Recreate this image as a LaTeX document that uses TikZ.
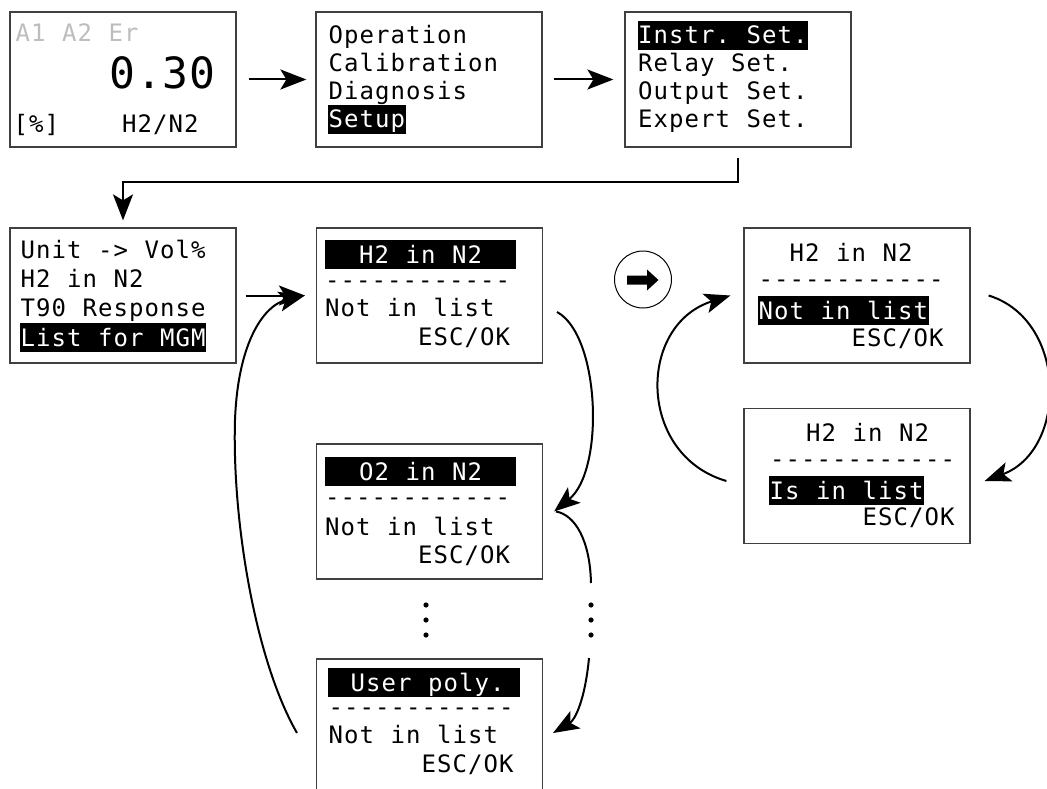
\documentclass[tikz,border=0pt]{standalone}
\usepackage{fontspec}
\usepackage{tikz}
\usetikzlibrary{arrows.meta}
\newfontfamily\lcdfont{DejaVu Sans Mono}
\definecolor{dim}{HTML}{BDBDBD}
\definecolor{frame}{HTML}{404040}
\newlength\lcdw
\setlength\lcdw{15.5pt}
\ExplSyntaxOn
\NewDocumentCommand\lcd{m}{
  \tl_set:Nn \l_tmpa_tl {#1}
  \tl_replace_all:Nnn \l_tmpa_tl {~} {\relax}
  \tl_map_inline:Nn \l_tmpa_tl {\makebox[\lcdw]{##1}}
}
\ExplSyntaxOff

\begin{document}
\begin{tikzpicture}[x=1pt,y=-1pt,
    font=\lcdfont\fontsize{24pt}{28pt}\selectfont,
    screen/.style={draw=frame,line width=1.2pt,minimum width=226pt,minimum height=135pt,inner sep=0pt},
    txt/.style={anchor=base west,inner sep=0pt},
    rule/.style={txt,text height=10pt,text depth=0pt},
    hl/.style={txt,fill=black,text=white,text height=23pt,text depth=6pt},
    arr/.style={-{Stealth[length=26pt,width=20pt,inset=6pt]},line width=2pt}]
  \useasboundingbox (0,0) rectangle (1047,789);
  \node[screen] (home) at (123,79.5) {};
  \node[screen] (menu) at (429,79.5) {};
  \node[screen] (setup) at (738,79.5) {};
  \node[screen] (instr) at (123,295.5) {};
  \node[screen] (list1) at (429.5,295.5) {};
  \node[screen] (list2) at (429.5,511.5) {};
  \node[screen] (list3) at (429.5,726.5) {};
  \node[screen] (sel1) at (857,295.5) {};
  \node[screen] (sel2) at (857,476) {};

  \node[txt,text=dim] (h1) at (15,41.7) {\lcd{A1 A2 Er}};
  \node[txt,anchor=base east,font={\lcdfont\fontsize{43pt}{43pt}\selectfont\setlength\lcdw{26.5pt}}] (h2) at (215.5,88.3) {\lcd{0.30}};
  \node[txt] (h3) at (13,133) {\lcd{[\%]}};
  \node[txt] (h4) at (121.5,133) {\lcd{H2/N2}};

  \node[txt] (m1) at (328,44) {\lcd{Operation}};
  \node[txt] (m2) at (328,72) {\lcd{Calibration}};
  \node[txt] (m3) at (328,100) {\lcd{Diagnosis}};
  \node[hl] (m4) at (328,128) {\lcd{Setup}};

  \node[hl] (s1) at (637.5,44) {\lcd{Instr. Set.}};
  \node[txt] (s2) at (637.5,72) {\lcd{Relay Set.}};
  \node[txt] (s3) at (637.5,100) {\lcd{Output Set.}};
  \node[txt] (s4) at (637.5,128) {\lcd{Expert Set.}};

  \node[txt] (i1) at (20,258) {\lcd{Unit -> Vol\%}};
  \node[txt] (i2) at (20,287) {\lcd{H2 in N2}};
  \node[txt] (i3) at (20,316.5) {\lcd{T90 Response}};
  \node[hl] (i4) at (20,346) {\lcd{List for MGM}};

  \node[hl,minimum width=191pt] (a1) at (325,263) {\lcd{H2 in N2}};
  \node[rule] (a2) at (324.5,288) {\lcd{------------}};
  \node[txt] (a3) at (324.5,316.5) {\lcd{Not in list}};
  \node[txt] (a4) at (417.5,345) {\lcd{ESC/OK}};

  \node[hl,minimum width=191pt] (b1) at (325,480) {\lcd{O2 in N2}};
  \node[rule] (b2) at (324.5,505) {\lcd{------------}};
  \node[txt] (b3) at (324.5,535) {\lcd{Not in list}};
  \node[txt] (b4) at (417.5,563) {\lcd{ESC/OK}};

  \node[hl,minimum width=192pt] (c1) at (328,691) {\hspace{7pt}\lcd{User poly.}};
  \node[rule] (c2) at (328,715) {\lcd{------------}};
  \node[txt] (c3) at (328,743.5) {\lcd{Not in list}};
  \node[txt] (c4) at (421,772) {\lcd{ESC/OK}};

  \node[txt] (d1) at (789,261.7) {\lcd{H2 in N2}};
  \node[rule] (d2) at (758,287) {\lcd{------------}};
  \node[hl] (d3) at (758,319) {\lcd{Not in list}};
  \node[txt] (d4) at (851,346.7) {\lcd{ESC/OK}};

  \node[txt] (e1) at (805.5,441.7) {\lcd{H2 in N2}};
  \node[rule] (e2) at (769.5,467.7) {\lcd{------------}};
  \node[hl] (e3) at (769,499) {\lcd{Is in list}};
  \node[txt] (e4) at (862,525) {\lcd{ESC/OK}};

  \foreach \y in {605,620,635} {
    \fill (426,\y) circle (2.6pt);
    \fill (591,\y) circle (2.6pt);
  }

  \node[circle,draw,line width=1pt,minimum size=57pt,inner sep=0pt] (go) at (643,279.5) {};
  \fill (627,275.5) -- (647,275.5) -- (647,269.5) -- (658.5,280) -- (647,290.5) -- (647,284.5) -- (627,284.5) -- cycle;

  \draw[arr] ([xshift=12pt]home.east) -- ([xshift=-9pt]menu.west);
  \draw[arr] ([xshift=11pt]menu.east) -- ([xshift=-11pt]setup.west);
  \draw[arr] ([yshift=-10pt]setup.south) -- ++(0,24) -| ([yshift=7pt]instr.north);

  \coordinate (in1) at ([xshift=-11pt]list1.west);
  \draw[arr] ([xshift=9pt]instr.east) -- (in1);
  \coordinate (back) at (297,733);
  \draw[arr] (back) .. controls (255,660) and (232,520) .. (235,420) .. controls (238,340) and (265,305) .. (in1);
  \coordinate (down1) at (557,312);
  \draw[arr] (down1) .. controls (600,335) and (605,470) .. ([xshift=11pt]list2.east);
  \coordinate (skip1) at (591,583);
  \draw[line width=2pt] ([xshift=13pt]list2.east) .. controls (575,515) and (590,540) .. (skip1);
  \coordinate (skip2) at (589,658);
  \coordinate (in3) at (553,733);
  \draw[arr] (skip2) .. controls (585,700) and (575,720) .. (in3);

  \draw[arr] ([xshift=18pt]sel1.east) .. controls (1068,320) and (1068,450) .. ([xshift=14pt,yshift=-5pt]sel2.east);
  \draw[arr] ([xshift=-17pt,yshift=-5pt]sel2.west) .. controls (637,455) and (637,325) .. ([xshift=-13pt]sel1.west);
\end{tikzpicture}
\end{document}
